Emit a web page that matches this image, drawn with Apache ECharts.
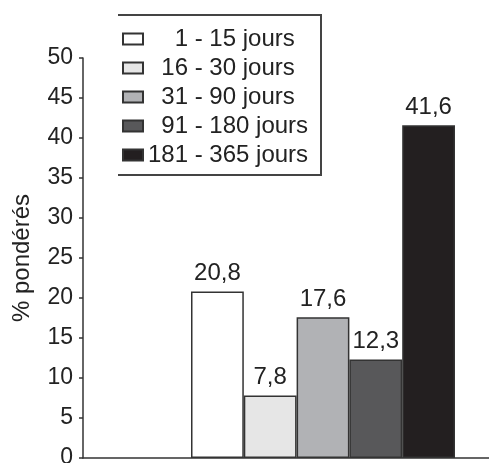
<!DOCTYPE html>
<html>
<head>
<meta charset="utf-8">
<script src="https://cdn.jsdelivr.net/npm/echarts@6/dist/echarts.min.js"></script>
<style>
html,body{margin:0;padding:0;background:#fff;}
#chart{width:489px;height:463px;}
</style>
</head>
<body>
<div id="chart"></div>
<script>
var categories = ['1 - 15 jours', '16 - 30 jours', '31 - 90 jours', '91 - 180 jours', '181 - 365 jours'];
var values = [20.8, 7.8, 17.6, 12.3, 41.6];
var colors = ['#ffffff', '#e6e6e6', '#b1b2b5', '#58585a', '#231f20'];
var legendPad = ['    ', '  ', '  ', '  ', ''];
var yTitle = '% pondérés';

var FONT = '"Liberation Sans", Arial, Helvetica, sans-serif';
var chart = echarts.init(document.getElementById('chart'), null, {renderer: 'canvas'});

var series = categories.map(function (name, i) {
  return {
    name: name,
    type: 'bar',
    xAxisIndex: 1,
    yAxisIndex: 1,
    barGap: '-100%',
    barCategoryGap: '0%',
    itemStyle: {color: colors[i], borderColor: '#333', borderWidth: 1.5},
    label: {
      show: true, position: 'top', distance: 6,
      fontFamily: FONT, fontSize: 24, color: '#222',
      formatter: function (p) { return String(p.value).replace('.', ','); }
    },
    data: categories.map(function (c, j) { return j === i ? values[i] : '-'; })
  };
});

chart.setOption({
  animation: false,
  backgroundColor: '#fff',
  textStyle: {fontFamily: FONT},
  grid: [
    {left: 83, right: 0, top: 58, bottom: 5, containLabel: false, outerBoundsMode: 'none'},
    {left: 191, width: 264, top: 58, bottom: 5, containLabel: false, outerBoundsMode: 'none'}
  ],
  xAxis: [
    {gridIndex: 0, type: 'category', data: [''],
     axisLine: {show: true, lineStyle: {color: '#333', width: 1.5}},
     axisTick: {show: false}, axisLabel: {show: false}},
    {gridIndex: 1, type: 'category', data: categories, show: false}
  ],
  yAxis: [
    {gridIndex: 0, type: 'value', min: 0, max: 50, interval: 5,
     name: yTitle, nameLocation: 'middle', nameRotate: 90, nameGap: 49,
     nameTextStyle: {fontFamily: FONT, fontSize: 24, color: '#222'},
     axisLine: {show: true, lineStyle: {color: '#333', width: 1.5}},
     axisTick: {show: true, length: 4, lineStyle: {color: '#333', width: 1.5}},
     axisLabel: {fontFamily: FONT, fontSize: 23, color: '#222', margin: 10},
     splitLine: {show: false}},
    {gridIndex: 1, type: 'value', min: 0, max: 50, show: false}
  ],
  legend: {
    orient: 'vertical',
    left: 118, top: 15,
    padding: [12, 10, 6, 4],
    itemWidth: 20, itemHeight: 11, itemGap: 5,
    icon: 'rect',
    selectedMode: false,
    textStyle: {fontFamily: FONT, fontSize: 24, color: '#222'},
    formatter: function (name) { return legendPad[categories.indexOf(name)] + name; },
    data: categories
  },
  graphic: [{
    type: 'polyline',
    shape: {points: [[118, 15], [321, 15], [321, 175], [118, 175]]},
    style: {stroke: '#444', lineWidth: 2, fill: null},
    silent: true
  }],
  series: series
});
</script>
</body>
</html>
